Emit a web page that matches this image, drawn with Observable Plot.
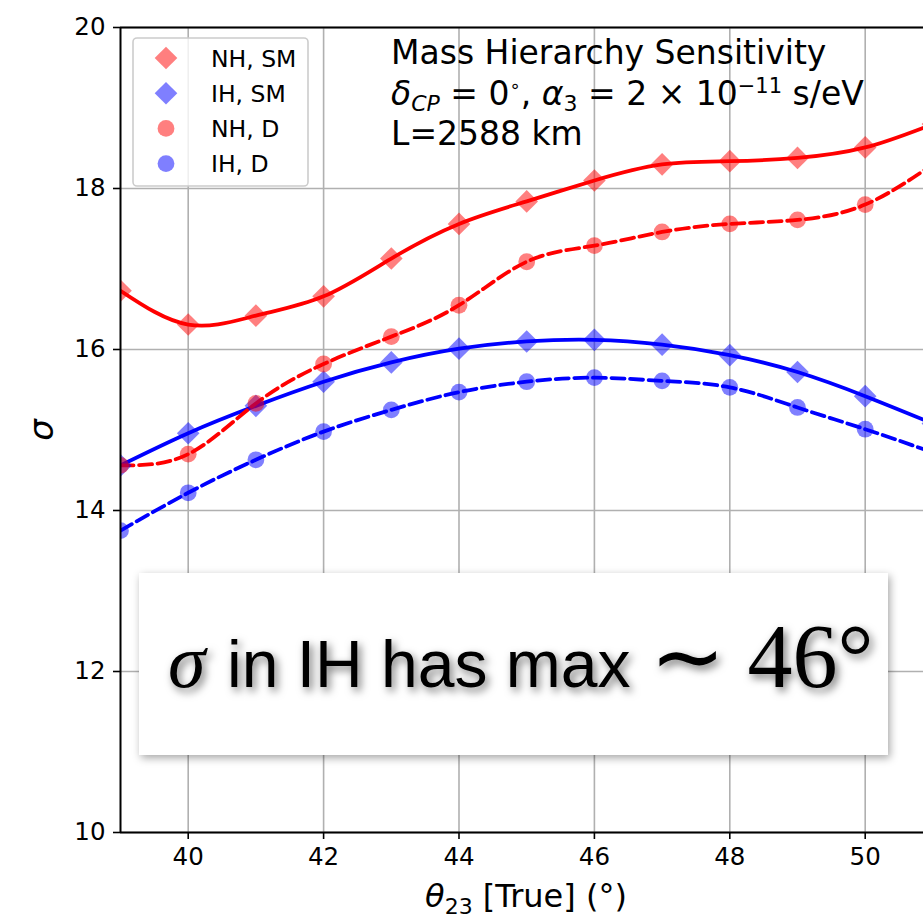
<!DOCTYPE html>
<html><head><meta charset="utf-8">
<script src="https://cdn.jsdelivr.net/npm/d3@7"></script>
<script src="https://cdn.jsdelivr.net/npm/@observablehq/plot@0.6"></script>
<style>
body{margin:0;background:#fff;}
#wrap{position:relative;width:923px;height:922px;overflow:hidden;}
</style></head>
<body><div id="wrap"></div>
<script>
// ---- data ----
const theta = [39, 40, 41, 42, 43, 44, 45, 46, 47, 48, 49, 50, 51];
const nhSM = [16.73, 16.31, 16.42, 16.66, 17.13, 17.56, 17.84, 18.10, 18.30, 18.34, 18.38, 18.51, 18.80];
const ihSM = [14.56, 14.96, 15.30, 15.60, 15.84, 16.01, 16.10, 16.12, 16.06, 15.93, 15.72, 15.42, 15.08];
const nhD  = [14.56, 14.70, 15.33, 15.82, 16.16, 16.55, 17.09, 17.29, 17.46, 17.56, 17.61, 17.80, 18.30];
const ihD  = [13.75, 14.22, 14.63, 14.98, 15.25, 15.47, 15.60, 15.65, 15.61, 15.53, 15.28, 15.01, 14.72];
const seriesNames = ["NH, SM", "IH, SM", "NH, D", "IH, D"];
const xTicks = [40, 42, 44, 46, 48, 50];
const yTicks = [10, 12, 14, 16, 18, 20];

// ---- styling per series ----
const seriesValues = [nhSM, ihSM, nhD, ihD];
const colorOf = {"NH, SM": "#ff0000", "IH, SM": "#0000ff", "NH, D": "#ff0000", "IH, D": "#0000ff"};
const symbolOf = {"NH, SM": "diamond2", "IH, SM": "diamond2", "NH, D": "circle", "IH, D": "circle"};

const rows = [];
seriesNames.forEach((s, i) => theta.forEach((t, j) => rows.push({series: s, theta: t, sigma: seriesValues[i][j], color: colorOf[s], model: s.endsWith("SM") ? "SM" : "D"})));
const smRows = rows.filter(d => d.model === "SM");
const dRows = rows.filter(d => d.model === "D");

const W = 923, H = 922, mL = 120, mT = 27, mB = 90, pxPerUnit = 67.7;
const FONT = "DejaVu Sans, sans-serif";

const plot = Plot.plot({
  width: W, height: H,
  marginLeft: mL, marginRight: 0, marginTop: mT, marginBottom: mB,
  x: {domain: [39, 39 + (W - mL) / pxPerUnit], axis: null},
  y: {domain: [10, 20], axis: null},
  color: {type: "identity"},
  style: {fontFamily: FONT, background: "white", color: "black"},
  marks: [
    Plot.gridX(xTicks, {stroke: "#b0b0b0", strokeOpacity: 1, strokeWidth: 1.6}),
    Plot.gridY(yTicks, {stroke: "#b0b0b0", strokeOpacity: 1, strokeWidth: 1.6}),
    Plot.line(smRows, {x: "theta", y: "sigma", z: "series", stroke: "color", strokeWidth: 3.8, curve: "natural", clip: true}),
    Plot.line(dRows, {x: "theta", y: "sigma", z: "series", stroke: "color", strokeWidth: 3.8, strokeDasharray: "13,5.6", curve: "natural", clip: true}),
    Plot.dot(smRows, {x: "theta", y: "sigma", fill: "color", fillOpacity: 0.5, symbol: "diamond2", r: 10.2, clip: true}),
    Plot.dot(dRows, {x: "theta", y: "sigma", fill: "color", fillOpacity: 0.5, symbol: "circle", r: 8.4, clip: true}),
    Plot.ruleX([39], {stroke: "black", strokeWidth: 2}),
    Plot.ruleY([10, 20], {stroke: "black", strokeWidth: 2}),
    Plot.axisX({ticks: xTicks, tickSize: 7, tickPadding: 8, fontSize: 24.5, strokeWidth: 1.6, label: null, tickFormat: d => String(d)}),
    Plot.axisY({ticks: yTicks, tickSize: 7, tickPadding: 8, fontSize: 24.5, strokeWidth: 1.6, label: null, tickFormat: d => String(d)})
  ]
});
document.getElementById("wrap").appendChild(plot);

const svg = d3.select(plot);
const defs = svg.append("defs");
const f1 = defs.append("filter").attr("id", "boxShadow").attr("x", "-10%").attr("y", "-20%").attr("width", "130%").attr("height", "150%");
f1.append("feDropShadow").attr("dx", 2).attr("dy", 3).attr("stdDeviation", 4).attr("flood-color", "#000").attr("flood-opacity", 0.35);
const f2 = defs.append("filter").attr("id", "txtShadow").attr("x", "-20%").attr("y", "-40%").attr("width", "140%").attr("height", "180%");
f2.append("feDropShadow").attr("dx", 3).attr("dy", 4).attr("stdDeviation", 4).attr("flood-color", "#000").attr("flood-opacity", 0.55);

// axis labels
const xl = svg.append("text").attr("x", 526).attr("y", 907).attr("text-anchor", "middle")
  .attr("font-family", FONT).attr("font-size", 32).attr("fill", "black");
xl.append("tspan").attr("font-style", "italic").text("θ");
xl.append("tspan").attr("font-size", 22).attr("dy", 7).text("23");
xl.append("tspan").attr("dy", -7).text(" [True] (°)");
svg.append("text").attr("transform", "translate(53,430) rotate(-90)").attr("text-anchor", "middle")
  .attr("font-family", FONT).attr("font-size", 34).attr("font-style", "italic").text("σ");

// legend
const lg = svg.append("g").attr("text-anchor", "start");
lg.append("rect").attr("x", 133).attr("y", 38).attr("width", 175).attr("height", 148).attr("rx", 4)
  .attr("fill", "white").attr("fill-opacity", 0.8).attr("stroke", "#cccccc").attr("stroke-width", 1.6);
seriesNames.forEach((s, i) => {
  const cy = 58 + i * 35.2;
  const sym = d3.symbol(symbolOf[s] === "circle" ? d3.symbolCircle : d3.symbolDiamond2, Math.PI * (symbolOf[s] === "circle" ? 8.4 * 8.4 : 104))();
  lg.append("path").attr("d", sym).attr("transform", `translate(166,${cy})`).attr("fill", colorOf[s]).attr("fill-opacity", 0.5);
  lg.append("text").attr("x", 211).attr("y", cy + 8.5).attr("font-family", FONT).attr("font-size", 23.5).attr("fill", "black").text(s);
});

// annotation text block
const tg = svg.append("g").attr("font-family", FONT).attr("font-size", 33).attr("fill", "black").attr("text-anchor", "start");
tg.append("text").attr("x", 391).attr("y", 64).text("Mass Hierarchy Sensitivity");
const l2 = tg.append("text").attr("x", 391).attr("y", 105);
l2.append("tspan").attr("font-style", "italic").text("δ");
l2.append("tspan").attr("font-style", "italic").attr("font-size", 22).attr("dy", 6).text("CP");
l2.append("tspan").attr("dy", -6).text(" = 0");
l2.append("tspan").attr("font-size", 18).attr("dy", -13).text("∘");
l2.append("tspan").attr("dy", 13).text(", ");
l2.append("tspan").attr("font-style", "italic").text("α");
l2.append("tspan").attr("font-size", 22).attr("dy", 6).text("3");
l2.append("tspan").attr("dy", -6).text(" = 2 × 10");
l2.append("tspan").attr("font-size", 21).attr("dy", -12).text("−11");
l2.append("tspan").attr("dy", 12).text(" s/eV");
tg.append("text").attr("x", 391).attr("y", 145).text("L=2588 km");

// overlay box
const ob = svg.append("g").attr("text-anchor", "start");
ob.append("rect").attr("x", 139).attr("y", 573).attr("width", 749).attr("height", 182).attr("fill", "white").attr("filter", "url(#boxShadow)");
const ot = ob.append("g").attr("filter", "url(#txtShadow)").attr("fill", "black");
ot.append("text").attr("x", 168).attr("y", 687).attr("font-family", "Liberation Serif, serif").attr("font-style", "italic").attr("font-size", 76).text("σ");
ot.append("text").attr("x", 227).attr("y", 687).attr("font-family", "Liberation Sans, Arial, sans-serif").attr("font-size", 66).text("in IH has max");
ot.append("text").attr("x", 650).attr("y", 687).attr("font-family", "Liberation Serif, serif").attr("font-size", 90).text("∼ 46°");
</script>
</body></html>
